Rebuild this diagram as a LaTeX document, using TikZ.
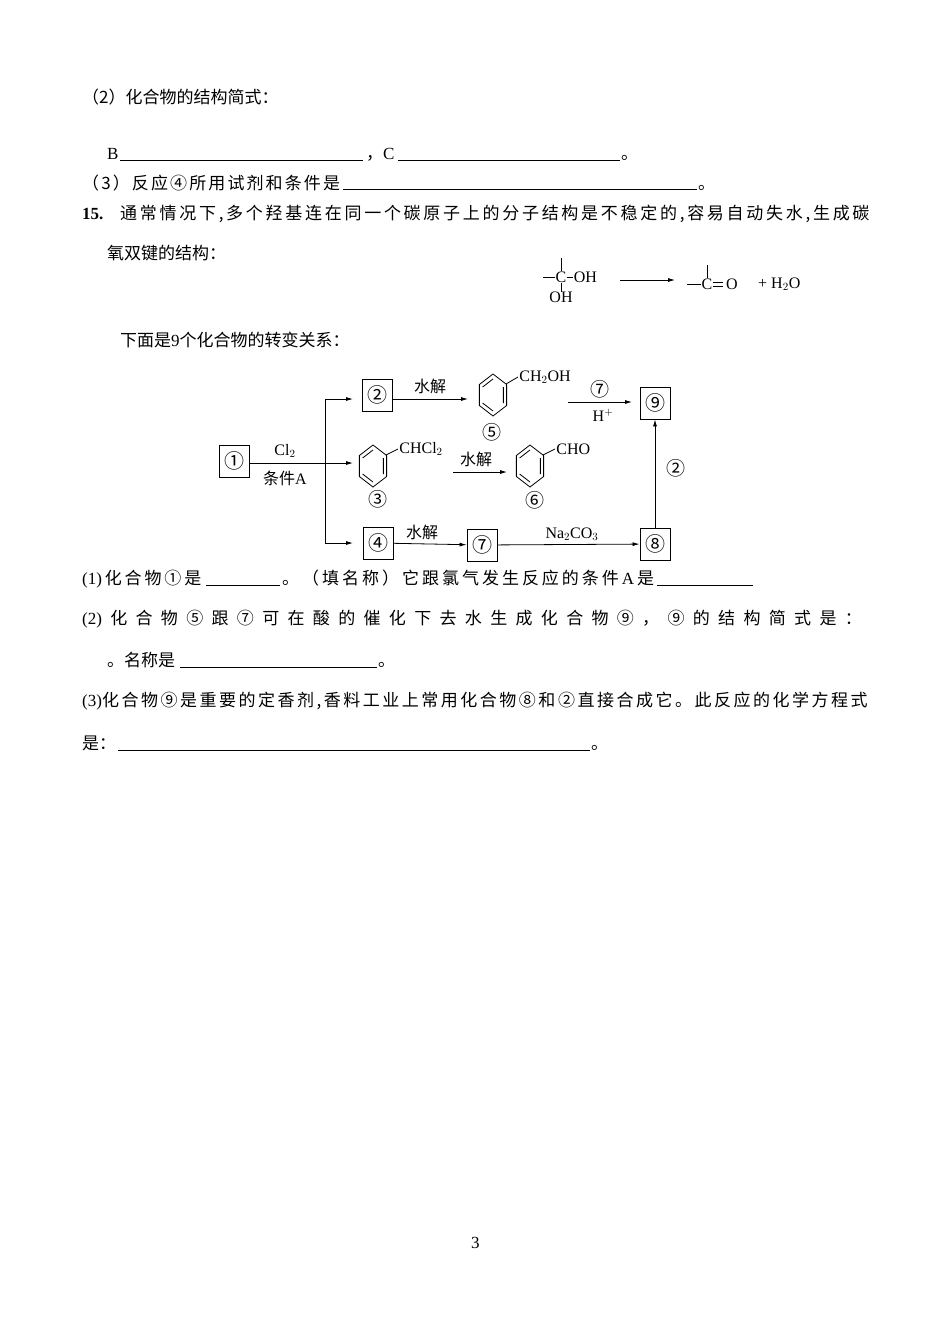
\documentclass[tikz,border=0pt]{standalone}
\usepackage{fontspec}
\setmainfont{Liberation Serif}
\newfontfamily\cjk{Noto Sans CJK SC}
\usetikzlibrary{arrows.meta}
\def\spr#1{\sprx#1\relax}
\def\sprx#1{\ifx#1\relax\else#1\hskip0pt plus1fil\expandafter\sprx\fi}
\tikzset{
 txt/.style={anchor=base west,inner sep=0pt,font=\fontsize{17}{20}\selectfont},
 lbl/.style={inner sep=0pt,font=\fontsize{16}{18}\selectfont},
 cbox/.style={draw,line width=0.9pt,minimum width=30pt,minimum height=32pt,inner sep=0pt,font=\cjk\fontsize{20}{20}\selectfont},
 arr/.style={line width=0.8pt,-{Latex[length=7pt,width=4pt]}},
 ln/.style={line width=0.8pt},
 uline/.style={line width=0.7pt}
}
\newcommand{\benz}[3]{%
 \begin{scope}[shift={(#2,#3)},xscale=0.75]
  \draw[ln] (90:21)--(30:21)--(-30:21)--(-90:21)--(-150:21)--(150:21)--cycle;
  \draw[ln] (150:16)--(90:16) (30:16)--(-30:16) (-90:16)--(-150:16);
  \coordinate (#1) at (0,0);
 \end{scope}}
\begin{document}
\begin{tikzpicture}[x=1pt,y=-1pt]
\useasboundingbox (0,0) rectangle (950,1342);
\fill[white] (0,0) rectangle (950,1342);
% header lines
\node[txt] (l1) at (82,103) {\cjk （2）化合物的结构简式：};
\node[txt] (l2) at (107,159) {B};
\draw[uline] (120,160)--(363,160);
\node[txt] (l2b) at (366,159) {{\cjk ，}C};
\draw[uline] (398,160)--(620,160);
\node[txt] (l2c) at (621,159) {\cjk 。};
\node[txt] (l3) at (82,189) {\makebox[260pt][s]{\cjk\spr{（3）反应④所用试剂和条件是}}};
\draw[uline] (343,189)--(697,189);
\node[txt] (l3c) at (698,189) {\cjk 。};
\node[txt] (l4) at (82,219) {\textbf{15.}};
\node[txt] (l4b) at (120,219) {\makebox[752pt][s]{\cjk\spr{通常情况下,多个羟基连在同一个碳原子上的分子结构是不稳定的,容易自动失水,生成碳}}};
\node[txt] (l5) at (107,259) {\cjk 氧双键的结构：};
% formula
\node[lbl] (c1) at (561,277) {C};
\draw[ln] (c1.north)--++(0,-13);
\draw[ln] (c1.west)--++(-12,0);
\draw[ln] (c1.east)--++(6,0) node[lbl,anchor=west,inner sep=1pt] (oh1) {OH};
\draw[ln] (c1.south)--++(0,9) node[lbl,anchor=north,inner sep=0pt] (oh2) {OH};
\coordinate (fa) at (620,280); \coordinate (fb) at (675,280);
\draw[arr] (fa)--(fb);
\node[lbl] (c2) at (707,284) {C};
\draw[ln] (c2.north)--++(0,-13);
\draw[ln] (c2.west)--++(-14,0);
\draw[ln] ([yshift=-2pt]c2.east)--++(10,0) ([yshift=2pt]c2.east)--++(10,0);
\node[lbl,anchor=west] (o2) at (726,284) {O};
\node[lbl,anchor=west] (h2o) at (758,284) {+ H$_2$O};
\node[txt] (l6) at (120,346) {{\cjk 下面是}9{\cjk 个化合物的转变关系：}};
% diagram
\node[cbox] (n1) at (234,461) {①};
\node[cbox] (n2) at (377,395) {②};
\node[cbox] (n9) at (655,403) {⑨};
\node[cbox] (n4) at (378,543) {④};
\node[cbox] (n7) at (482,545) {⑦};
\node[cbox] (n8) at (655,544) {⑧};
\coordinate (br) at (325,463);
\draw[ln] (n1.east|-br)--(br);
\draw[arr] (br)--(353,463);
\draw[arr] (br)|-(353,399);
\draw[arr] (br)|-(353,543);
\node[lbl] (cl2) at (285,451) {Cl$_2$};
\node[lbl] (ta) at (285,478) {{\cjk 条件}A};
\benz{r5}{493}{395}
\draw[ln] (506,384)--(518,377) node[lbl,anchor=west,inner sep=1pt] (s5) {CH$_2$OH};
\node[lbl] (c5) at (492,432) {\cjk\fontsize{19}{19}\selectfont ⑤};
\draw[arr] (n2.east|-0,399)--(468,399);
\node[lbl] (h1) at (430,386) {\cjk 水解};
\draw[arr] (568,402)--(632,402);
\node[lbl] (q7) at (600,389) {\cjk\fontsize{19}{19}\selectfont ⑦};
\node[lbl] (hp) at (603,415) {H$^+$};
\benz{r3}{373}{466}
\draw[ln] (386,455)--(398,449) node[lbl,anchor=west,inner sep=1pt] (s3) {CHCl$_2$};
\node[lbl] (c3) at (378,499) {\cjk\fontsize{19}{19}\selectfont ③};
\draw[arr] (453,472)--(507,472);
\node[lbl] (h2) at (476,459) {\cjk 水解};
\benz{r6}{530}{466}
\draw[ln] (543,455)--(555,449) node[lbl,anchor=west,inner sep=1pt] (s6) {CHO};
\node[lbl] (c6) at (535,500) {\cjk\fontsize{19}{19}\selectfont ⑥};
\draw[arr] (n4)--(n7);
\node[lbl] (h3) at (422,532) {\cjk 水解};
\draw[arr] (n7)--(n8);
\node[lbl] (na) at (572,534) {Na$_2$CO$_3$};
\draw[arr] (n8)--(n9);
\node[lbl] (q2) at (676,468) {\cjk\fontsize{19}{19}\selectfont ②};
% questions
\node[txt] (q1) at (82,584) {\makebox[122pt][s]{(1)\hskip0pt plus1fil{\cjk\spr{化合物①是}}}};
\draw[uline] (206,585)--(280,585);
\node[txt] (q1b) at (282,584) {\makebox[372pt][s]{\cjk\spr{。（填名称）它跟氯气发生反应的条件}{\rmfamily A}\hskip0pt plus1fil 是}};
\draw[uline] (657,585)--(753,585);
\node[txt] (q2l) at (82,624) {\makebox[788pt][s]{(2)\hskip0pt plus1fil{\cjk\spr{化合物⑤跟⑦可在酸的催化下去水生成化合物⑨，⑨的结构简式是：}}}};
\node[txt] (q2b) at (107,666) {\cjk 。名称是};
\draw[uline] (180,667)--(377,667);
\node[txt] (q2c) at (378,666) {\cjk 。};
\node[txt] (q3) at (82,706) {\makebox[788pt][s]{(3){\cjk\spr{化合物⑨是重要的定香剂,香料工业上常用化合物⑧和②直接合成它。此反应的化学方程式}}}};
\node[txt] (q3b) at (82,749) {\cjk 是：};
\draw[uline] (118,750)--(590,750);
\node[txt] (q3c) at (591,749) {\cjk 。};
\node[txt] (pg) at (471,1248) {3};
\end{tikzpicture}
\end{document}
